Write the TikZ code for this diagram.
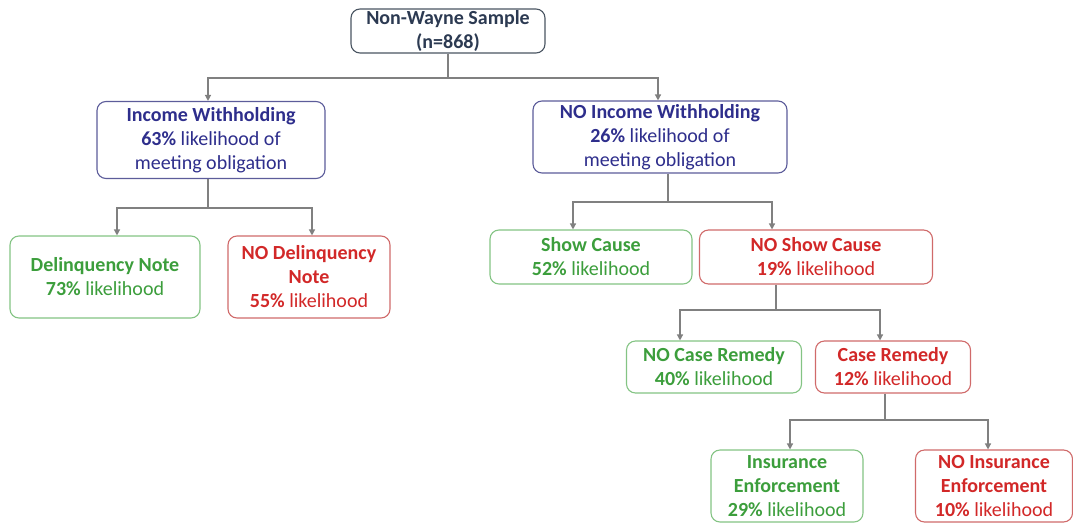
\documentclass[tikz,border=0pt]{standalone}
\usepackage{fontspec}
\setmainfont{Carlito}
\usetikzlibrary{arrows.meta}
\definecolor{bluetxt}{HTML}{2E2E8C}
\definecolor{blueline}{HTML}{5C5C9A}
\definecolor{greentxt}{HTML}{3C9E3C}
\definecolor{greenline}{HTML}{84C484}
\definecolor{redtxt}{HTML}{D22828}
\definecolor{redline}{HTML}{D06A6A}
\definecolor{roottxt}{HTML}{2C3A52}
\definecolor{rootline}{HTML}{4A5562}
\definecolor{conn}{HTML}{808080}
\tikzset{
  box/.style={draw, rounded corners=9pt, line width=1.1pt, align=center, inner sep=1pt,
    font=\fontsize{20}{24}\selectfont, fill=white},
  rootbox/.style={box, draw=rootline, text=roottxt},
  bluebox/.style={box, draw=blueline, text=bluetxt},
  greenbox/.style={box, draw=greenline, text=greentxt},
  redbox/.style={box, draw=redline, text=redtxt},
  link/.style={draw=conn, line width=1.3pt},
  arr/.style={link, -{Triangle[width=6pt,length=6pt]}}
}
\begin{document}
\begin{tikzpicture}[x=1pt,y=-1pt]
\useasboundingbox (0,0) rectangle (1073,525);
\node[rootbox, minimum width=194pt, minimum height=44pt] (root) at (448,31) {\textbf{Non-Wayne Sample}\\\textbf{(n=868)}};
\node[bluebox, minimum width=228pt, minimum height=77pt] (iw) at (211,140) {\textbf{Income Withholding}\\\textbf{63\%} likelihood of\\meeting obligation};
\node[bluebox, minimum width=254pt, minimum height=72pt] (niw) at (660,137) {\textbf{NO Income Withholding}\\\textbf{26\%} likelihood of\\meeting obligation};
\node[greenbox, minimum width=190pt, minimum height=82pt] (dn) at (105,277) {\textbf{Delinquency Note}\\\textbf{73\%} likelihood};
\node[redbox, minimum width=162pt, minimum height=82pt] (ndn) at (309,277) {\textbf{NO Delinquency}\\\textbf{Note}\\\textbf{55\%} likelihood};
\node[greenbox, minimum width=202pt, minimum height=54pt] (sc) at (591,257) {\textbf{Show Cause}\\\textbf{52\%} likelihood};
\node[redbox, minimum width=233pt, minimum height=54pt] (nsc) at (816,257) {\textbf{NO Show Cause}\\\textbf{19\%} likelihood};
\node[greenbox, minimum width=175pt, minimum height=52pt] (ncr) at (714,367) {\textbf{NO Case Remedy}\\\textbf{40\%} likelihood};
\node[redbox, minimum width=155pt, minimum height=52pt] (cr) at (893,367) {\textbf{Case Remedy}\\\textbf{12\%} likelihood};
\node[greenbox, minimum width=152pt, minimum height=72pt] (ie) at (787,486) {\textbf{Insurance}\\\textbf{Enforcement}\\\textbf{29\%} likelihood};
\node[redbox, minimum width=157pt, minimum height=72pt] (nie) at (994,486) {\textbf{NO Insurance}\\\textbf{Enforcement}\\\textbf{10\%} likelihood};
% connectors
\coordinate (j1) at (448,78);
\draw[link] (root.south) -- (j1);
\draw[arr] (j1) -| ([xshift=-3pt]iw.north);
\draw[arr] (j1) -| ([xshift=-2pt]niw.north);
\coordinate (j2) at (208,208);
\draw[link] ([xshift=-3pt]iw.south) -- (j2);
\draw[arr] (j2) -| ([xshift=12pt]dn.north);
\draw[arr] (j2) -| ([xshift=3pt]ndn.north);
\coordinate (j3) at (668,202);
\draw[link] ([xshift=8pt]niw.south) -- (j3);
\draw[arr] (j3) -| ([xshift=-18pt]sc.north);
\draw[arr] (j3) -| ([xshift=-44pt]nsc.north);
\coordinate (j4) at (776,310);
\draw[link] ([xshift=-40pt]nsc.south) -- (j4);
\draw[arr] (j4) -| ([xshift=-34pt]ncr.north);
\draw[arr] (j4) -| ([xshift=-13pt]cr.north);
\coordinate (j5) at (885,420);
\draw[link] ([xshift=-8pt]cr.south) -- (j5);
\draw[arr] (j5) -| ([xshift=3pt]ie.north);
\draw[arr] (j5) -| ([xshift=-6pt]nie.north);
\end{tikzpicture}
\end{document}
